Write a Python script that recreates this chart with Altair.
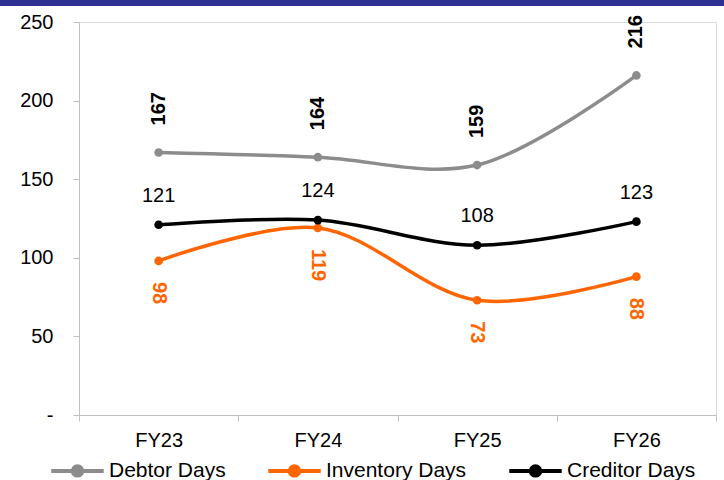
import altair as alt
import pandas as pd

years = ["FY23", "FY24", "FY25", "FY26"]
debtor_days = [167, 164, 159, 216]
inventory_days = [98, 119, 73, 88]
creditor_days = [121, 124, 108, 123]

series_names = ["Debtor Days", "Inventory Days", "Creditor Days"]
series_colors = ["#8C8C8C", "#FF6600", "#000000"]

rows = []
for name, vals in zip(series_names, [debtor_days, inventory_days, creditor_days]):
    for yr, v in zip(years, vals):
        rows.append({"year": yr, "series": name, "value": v})
df = pd.DataFrame(rows)

FONT = "Liberation Sans"

x_enc = alt.X(
    "year:N",
    sort=years,
    title=None,
    scale=alt.Scale(paddingInner=0, paddingOuter=0),
    axis=alt.Axis(
        labelAngle=0, labelFontSize=20, labelColor="#000", labelFont=FONT,
        labelPadding=9, domainColor="#BFBFBF", tickColor="#BFBFBF",
        tickBand="extent", tickSize=6, grid=False,
    ),
)
y_enc = alt.Y(
    "value:Q",
    title=None,
    scale=alt.Scale(domain=[0, 250], nice=False),
    axis=alt.Axis(
        values=[0, 50, 100, 150, 200, 250],
        labelExpr="datum.value == 0 ? '-' : datum.label",
        labelFontSize=20, labelColor="#000", labelFont=FONT, labelPadding=20,
        domainColor="#BFBFBF", tickColor="#BFBFBF", tickSize=6, grid=False,
    ),
)

# legend glyph: a short line with a dot in the middle
legend_symbol = "M-1,0L1,0M0.18,0A0.18,0.18,0,1,1,-0.18,0A0.18,0.18,0,1,1,0.18,0"
color_scale = alt.Scale(domain=series_names, range=series_colors)
legend = alt.Legend(
    orient="none", direction="horizontal", legendX=-30, legendY=420,
    symbolType=legend_symbol, symbolSize=2750, symbolStrokeWidth=4,
    symbolStrokeColor=alt.ExprRef("scale('color', datum.value)"),
    symbolFillColor=alt.ExprRef("scale('color', datum.value)"),
    symbolOpacity=1,
    labelFontSize=21, labelFont=FONT, labelColor="#000",
    columnPadding=34, labelOffset=3,
)
color_enc = alt.Color("series:N", scale=color_scale, sort=series_names, title=None, legend=legend)

lines = alt.Chart(df).mark_line(interpolate="catmull-rom", strokeWidth=3.5).encode(
    x=x_enc,
    y=y_enc,
    color=color_enc,
)

points = alt.Chart(df).mark_circle(size=75, opacity=1).encode(
    x=alt.X("year:N", sort=years),
    y="value:Q",
    color=color_enc,
)

debtor_lbl = alt.Chart(df[df.series == "Debtor Days"]).mark_text(
    angle=270, align="left", baseline="middle", dx=27,
    fontSize=20, fontWeight="bold", font=FONT, color="#000",
).encode(x=alt.X("year:N", sort=years), y="value:Q", text="value:Q")

inventory_lbl = alt.Chart(df[df.series == "Inventory Days"]).mark_text(
    angle=90, align="left", baseline="middle", dx=21,
    fontSize=20, fontWeight="bold", font=FONT, color="#FF6600",
).encode(x=alt.X("year:N", sort=years), y="value:Q", text="value:Q")

creditor_lbl = alt.Chart(df[df.series == "Creditor Days"]).mark_text(
    align="center", baseline="middle", dy=-29,
    fontSize=20, font=FONT, color="#000",
).encode(x=alt.X("year:N", sort=years), y="value:Q", text="value:Q")

header_bar = alt.Chart(pd.DataFrame({"k": [0]})).mark_rect(color="#2E3192").encode(
    x=alt.value(-79), x2=alt.value(645), y=alt.value(-22), y2=alt.value(-16)
)

chart = alt.layer(header_bar, lines, points, debtor_lbl, inventory_lbl, creditor_lbl).properties(
    width=637, height=393,
    padding={"left": 79, "top": 22, "right": 8, "bottom": 65},
    autosize=alt.AutoSizeParams(type="none"),
).configure_view(stroke=None).configure(background="white")

chart.save("out.html", embed_options={"renderer": "svg", "actions": False})
